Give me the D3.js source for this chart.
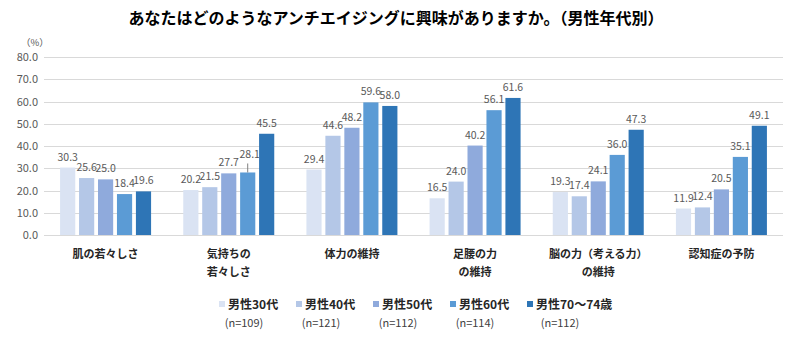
<!DOCTYPE html>
<html>
<head>
<meta charset="utf-8">
<script src="https://cdn.jsdelivr.net/npm/d3@7"></script>
<style>
  body { margin: 0; background: #fff; }
  svg { font-family: "Noto Sans CJK JP", "Noto Sans", sans-serif; }
</style>
</head>
<body>
<script>
// chart data
var categories = [["肌の若々しさ"], ["気持ちの", "若々しさ"], ["体力の維持"], ["足腰の力", "の維持"], ["脳の力（考える力）", "の維持"], ["認知症の予防"]];
var seriesNames = ["男性30代", "男性40代", "男性50代", "男性60代", "男性70～74歳"];
var seriesCounts = ["(n=109)", "(n=121)", "(n=112)", "(n=114)", "(n=112)"];
var male30 = [30.3, 20.2, 29.4, 16.5, 19.3, 11.9];
var male40 = [25.6, 21.5, 44.6, 24.0, 17.4, 12.4];
var male50 = [25.0, 27.7, 48.2, 40.2, 24.1, 20.5];
var male60 = [18.4, 28.1, 59.6, 56.1, 36.0, 35.1];
var male70 = [19.6, 45.5, 58.0, 61.6, 47.3, 49.1];
var yTicks = [0, 10, 20, 30, 40, 50, 60, 70, 80];
var colors = ["#dae3f3", "#b4c7e7", "#8faadc", "#5b9bd5", "#2e75b6"];

var series = [male30, male40, male50, male60, male70];

var width = 800, height = 339;
var svg = d3.select("body").append("svg")
    .attr("width", width)
    .attr("height", height);

// title
svg.append("text")
    .attr("x", 396)
    .attr("y", 24)
    .attr("text-anchor", "middle")
    .style("font-size", "16px")
    .style("font-weight", "bold")
    .style("fill", "#000")
    .text("あなたはどのようなアンチエイジングに興味がありますか。（男性年代別）");

var plot = { left: 44, right: 783, top: 57, bottom: 235 };

var x0 = d3.scaleBand()
    .domain(d3.range(categories.length))
    .range([plot.left, plot.right])
    .paddingInner(0)
    .paddingOuter(0);

var groupWidth = 91;
var x1 = d3.scaleBand()
    .domain(d3.range(series.length))
    .range([0, groupWidth])
    .paddingInner(0.2);

var y = d3.scaleLinear().domain([0, 80]).range([plot.bottom, plot.top]);

// gridlines
svg.append("g")
    .selectAll("line")
    .data(yTicks)
    .enter().append("line")
    .attr("x1", plot.left)
    .attr("x2", plot.right)
    .attr("y1", function (d) { return Math.round(y(d)) + 0.5; })
    .attr("y2", function (d) { return Math.round(y(d)) + 0.5; })
    .style("stroke", "#d9d9d9")
    .style("stroke-width", 1);

// y axis labels
var yAxis = svg.append("g")
    .attr("transform", "translate(" + (plot.left - 6) + ",0)")
    .call(d3.axisLeft(y).tickValues(yTicks).tickSize(0).tickPadding(0)
        .tickFormat(function (d) { return d.toFixed(1); }));
yAxis.select(".domain").remove();
yAxis.selectAll("text")
    .style("font-family", "\"Noto Sans CJK JP\", sans-serif")
    .style("font-size", "11px")
    .style("fill", "#595959");

svg.append("text")
    .attr("x", 21)
    .attr("y", 46)
    .style("font-size", "9.5px")
    .style("fill", "#595959")
    .text("（%）");

// bars
var groups = svg.selectAll(".grp")
    .data(categories)
    .enter().append("g")
    .attr("class", "grp")
    .attr("transform", function (d, i) {
        return "translate(" + (x0(i) + (x0.bandwidth() - groupWidth) / 2) + ",0)";
    });

groups.selectAll("rect")
    .data(function (d, i) {
        return series.map(function (s, j) { return { s: j, v: s[i], c: i }; });
    })
    .enter().append("rect")
    .attr("x", function (d) { return x1(d.s); })
    .attr("y", function (d) { return y(d.v); })
    .attr("width", x1.bandwidth())
    .attr("height", function (d) { return y(0) - y(d.v); })
    .style("fill", function (d) { return colors[d.s]; });

// value labels (28.1 is lifted with a leader line)
function lift(d) {
    return (d.s === 3 && d.c === 1) ? 7 : 0;
}

groups.selectAll(".val")
    .data(function (d, i) {
        return series.map(function (s, j) { return { s: j, v: s[i], c: i }; });
    })
    .enter().append("text")
    .attr("class", "val")
    .attr("x", function (d) { return x1(d.s) + x1.bandwidth() / 2 + (lift(d) ? 2 : 0); })
    .attr("y", function (d) { return y(d.v) - 7 - lift(d); })
    .attr("text-anchor", "middle")
    .style("font-size", "10.5px")
    .style("fill", "#595959")
    .text(function (d) { return d.v.toFixed(1); });

groups.selectAll(".leader")
    .data(function (d, i) {
        return series.map(function (s, j) { return { s: j, v: s[i], c: i }; })
            .filter(function (d) { return lift(d) > 0; });
    })
    .enter().append("line")
    .attr("class", "leader")
    .attr("x1", function (d) { return x1(d.s) + x1.bandwidth() / 2; })
    .attr("x2", function (d) { return x1(d.s) + x1.bandwidth() / 2; })
    .attr("y1", function (d) { return y(d.v) - lift(d) - 2; })
    .attr("y2", function (d) { return y(d.v); })
    .style("stroke", "#7f7f7f")
    .style("stroke-width", 1);

// category labels
svg.selectAll(".cat")
    .data(categories)
    .enter().append("text")
    .attr("class", "cat")
    .attr("text-anchor", "middle")
    .attr("transform", function (d, i) {
        return "translate(" + (x0(i) + x0.bandwidth() / 2) + ",0)";
    })
    .style("font-size", "11px")
    .style("font-weight", "bold")
    .style("fill", "#262626")
    .selectAll("tspan")
    .data(function (d) { return d; })
    .enter().append("tspan")
    .attr("x", 0)
    .attr("y", function (d, i) { return 258 + i * 18; })
    .text(function (d) { return d; });

// legend
var legend = svg.selectAll(".leg")
    .data(seriesNames)
    .enter().append("g")
    .attr("class", "leg")
    .attr("transform", function (d, i) { return "translate(" + (219 + i * 77) + ",300)"; });

legend.append("rect")
    .attr("x", 0)
    .attr("y", 1)
    .attr("width", 6)
    .attr("height", 6)
    .style("fill", function (d, i) { return colors[i]; });

legend.append("text")
    .attr("x", 9)
    .attr("y", 9)
    .style("font-size", "12px")
    .style("font-weight", "bold")
    .style("fill", "#262626")
    .text(function (d) { return d; });

legend.append("text")
    .attr("x", function (d, i) { return i === 4 ? 33 : 25; })
    .attr("y", 27)
    .attr("text-anchor", "middle")
    .style("font-size", "11px")
    .style("fill", "#404040")
    .text(function (d, i) { return seriesCounts[i]; });
</script>
</body>
</html>
